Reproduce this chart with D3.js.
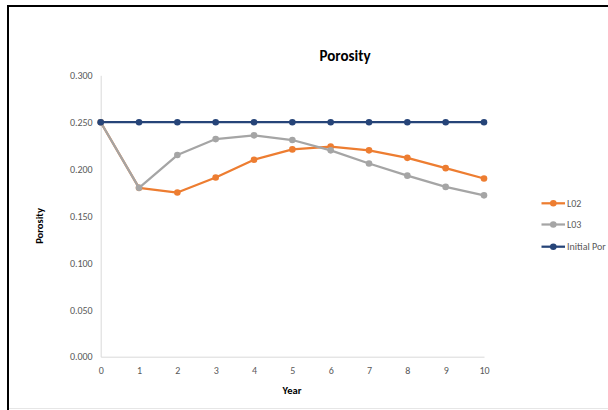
<!DOCTYPE html>
<html>
<head>
<meta charset="utf-8">
<script src="https://cdn.jsdelivr.net/npm/d3@7"></script>
<style>
  html, body { margin: 0; padding: 0; background: #fff; }
  svg { display: block; }
</style>
</head>
<body>
<div id="chart"></div>
<script>
const years = [0, 1, 2, 3, 4, 5, 6, 7, 8, 9, 10];
const seriesNames = ["L02", "L03", "Initial Por"];
const l02 = [0.250, 0.180, 0.175, 0.191, 0.210, 0.221, 0.224, 0.220, 0.212, 0.201, 0.190];
const l03 = [0.250, 0.180, 0.215, 0.232, 0.236, 0.231, 0.220, 0.206, 0.193, 0.181, 0.172];
const initialPor = [0.250, 0.250, 0.250, 0.250, 0.250, 0.250, 0.250, 0.250, 0.250, 0.250, 0.250];
const yTicks = [0, 0.05, 0.10, 0.15, 0.20, 0.25, 0.30];
const colors = ["#ED7D31", "#A5A5A5", "#264478"];

const W = 608, H = 410;
const svg = d3.select("#chart").append("svg").attr("width", W).attr("height", H);
const font = "Calibri, Carlito, Lato, 'Liberation Sans', sans-serif";

// frame
svg.append("line").attr("x1", 8).attr("x2", W).attr("y1", 6).attr("y2", 6)
  .attr("stroke", "#000").attr("stroke-width", 2);
svg.append("line").attr("x1", 8).attr("x2", 8).attr("y1", 5).attr("y2", H)
  .attr("stroke", "#000").attr("stroke-width", 2);
svg.append("line").attr("x1", 9).attr("x2", W).attr("y1", 408.5).attr("y2", 408.5)
  .attr("stroke", "#e6e6e6").attr("stroke-width", 1);

const x = d3.scaleLinear().domain([0, 10]).range([100.7, 484]);
const y = d3.scaleLinear().domain([0, 0.3]).range([356.7, 75.3]);

// y axis
const yAxis = svg.append("g").attr("transform", "translate(100.7,0)")
  .call(d3.axisLeft(y).tickValues(yTicks).tickFormat(d3.format(".3f")).tickSize(0).tickPadding(8));
yAxis.select(".domain").attr("stroke", "#d9d9d9").attr("stroke-width", 1);
yAxis.selectAll("text").attr("fill", "#595959").style("font-family", font).style("font-size", "10px");

// x axis
const xAxis = svg.append("g").attr("transform", "translate(0,356.7)")
  .call(d3.axisBottom(x).tickValues(years).tickFormat(d3.format("d")).tickSize(0).tickPadding(10));
xAxis.select(".domain").attr("stroke", "#d9d9d9").attr("stroke-width", 1);
xAxis.selectAll("text").attr("fill", "#595959").style("font-family", font).style("font-size", "10px");

// series
const allSeries = [l02, l03, initialPor];
const line = d3.line().x((d, i) => x(years[i])).y(d => y(d));
allSeries.forEach((vals, si) => {
  const g = svg.append("g");
  g.append("path").datum(vals).attr("d", line)
    .attr("fill", "none").attr("stroke", colors[si]).attr("stroke-width", 2.25)
    .attr("stroke-linejoin", "round");
  g.selectAll("circle").data(vals).enter().append("circle")
    .attr("cx", (d, i) => x(years[i])).attr("cy", d => y(d)).attr("r", 3.3)
    .attr("fill", colors[si]);
});

// title
svg.append("text").attr("x", 345).attr("y", 61).attr("text-anchor", "middle")
  .style("font-family", font).style("font-size", "15px").style("font-weight", "bold")
  .attr("fill", "#000").text("Porosity");

// axis titles
svg.append("text").attr("transform", "translate(43,226) rotate(-90)").attr("text-anchor", "middle")
  .style("font-family", font).style("font-size", "10.5px").style("font-weight", "bold")
  .attr("fill", "#000").text("Porosity");
svg.append("text").attr("x", 292).attr("y", 394).attr("text-anchor", "middle")
  .style("font-family", font).style("font-size", "10.5px").style("font-weight", "bold")
  .attr("fill", "#000").text("Year");

// legend
const legY = [203.3, 224.5, 246.7];
seriesNames.forEach((name, i) => {
  const g = svg.append("g");
  g.append("line").attr("x1", 541.5).attr("x2", 565).attr("y1", legY[i]).attr("y2", legY[i])
    .attr("stroke", colors[i]).attr("stroke-width", 2.25);
  g.append("circle").attr("cx", 553.3).attr("cy", legY[i]).attr("r", 3.3).attr("fill", colors[i]);
  g.append("text").attr("x", 567).attr("y", legY[i] + 3.5)
    .style("font-family", font).style("font-size", "10px").attr("fill", "#595959").text(name);
});
</script>
</body>
</html>
